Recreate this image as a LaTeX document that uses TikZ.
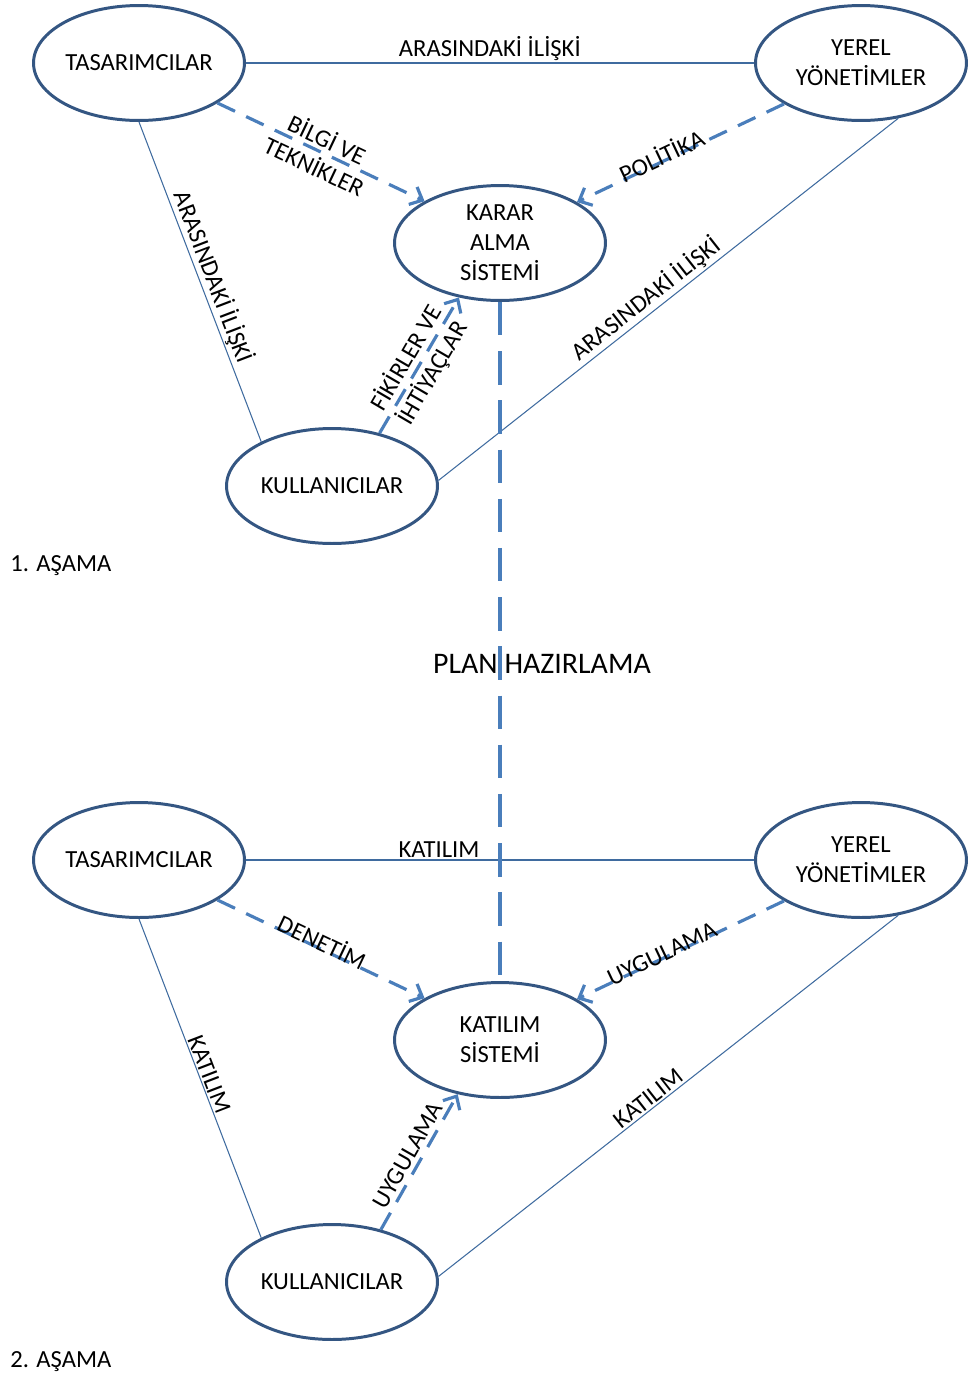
\documentclass[tikz,border=0pt]{standalone}
\usepackage{fontspec}
\setmainfont{Carlito}
\usepackage{tikz}
\usetikzlibrary{positioning}
\usetikzlibrary{shapes}
\usetikzlibrary{arrows.meta}
\definecolor{ringBlue}{RGB}{52,86,130}
\definecolor{flowBlue}{RGB}{74,126,187}

\begin{document}
\begin{tikzpicture}[x=0.02cm, y=-0.02cm,
	actor/.style={ellipse, draw=ringBlue, line width=1.7pt, fill=white, minimum width=4.22cm, minimum height=2.3cm, inner sep=0pt, align=center, font=\fontsize{14}{17}\selectfont},
	relLine/.style={draw=flowBlue!85!black, line width=0.6pt},
	flowArrow/.style={draw=flowBlue, line width=1.8pt, dash pattern=on 11pt off 7pt, -{Straight Barb[length=6pt,width=11pt]}},
	edgeText/.style={font=\fontsize{14}{17}\selectfont, align=center, sloped, inner sep=1pt},
	stageText/.style={anchor=west, inner sep=0pt, font=\fontsize{14}{17}\selectfont}]
	\useasboundingbox (0,0) rectangle (969,1380);

	% 1. asama
	\node[actor](tasA) at (139,63){TASARIMCILAR};
	\node[actor](yerelA) at (861,63){YEREL\\YÖNETİMLER};
	\node[actor](kararA) at (500,243){KARAR\\ALMA\\SİSTEMİ};
	\node[actor](kullA) at (332,486){KULLANICILAR};
	\node[stageText](stageOne) at (10,566){1. AŞAMA};

	\draw[relLine] (tasA.east) -- node[edgeText, above, pos=0.48]{ARASINDAKİ İLİŞKİ} (yerelA.west);
	\draw[relLine] (tasA.south) -- node[edgeText, above]{ARASINDAKİ İLİŞKİ} (kullA.148);
	\draw[relLine] (kullA.3) -- node[edgeText, above, pos=0.47]{ARASINDAKİ İLİŞKİ} (yerelA.-56);

	\draw[flowArrow] (tasA.-27) -- node[edgeText]{BİLGİ VE\\TEKNİKLER} (kararA.151);
	\draw[flowArrow] (yerelA.208) -- node[edgeText, above=-4pt, pos=0.58]{POLİTİKA} (kararA.28);
	\draw[flowArrow] (kullA.48) -- node[edgeText]{FİKİRLER VE\\İHTİYAÇLAR} (kararA.-127);

	% 2. asama
	\node[actor](tasB) at (139,860){TASARIMCILAR};
	\node[actor](yerelB) at (861,860){YEREL\\YÖNETİMLER};
	\node[actor](katB) at (500,1040){KATILIM\\SİSTEMİ};
	\node[actor](kullB) at (332,1282){KULLANICILAR};
	\node[stageText](stageTwo) at (10,1362){2. AŞAMA};

	\draw[relLine] (tasB.east) -- node[edgeText, above, pos=0.38]{KATILIM} (yerelB.west);
	\draw[relLine] (tasB.south) -- node[edgeText, above]{KATILIM} (kullB.148);
	\draw[relLine] (kullB.3) -- node[edgeText, above, pos=0.47]{KATILIM} (yerelB.-56);

	\draw[flowArrow] (tasB.-27) -- node[edgeText, above=-3pt, pos=0.49]{DENETİM} (katB.151);
	\draw[flowArrow] (yerelB.208) -- node[edgeText, above=-4pt, pos=0.58]{UYGULAMA} (katB.28);
	\draw[flowArrow] (kullB.47) -- node[edgeText, above=1pt]{UYGULAMA} (katB.-128);

	% plan hazirlama
	\draw[flowBlue, line width=2pt, dash pattern=on 19pt off 9pt] (kararA.south) -- (katB.north);
	\node[font=\fontsize{17}{20}\selectfont](planText) at (542,664){PLAN HAZIRLAMA};
\end{tikzpicture}
\end{document}
